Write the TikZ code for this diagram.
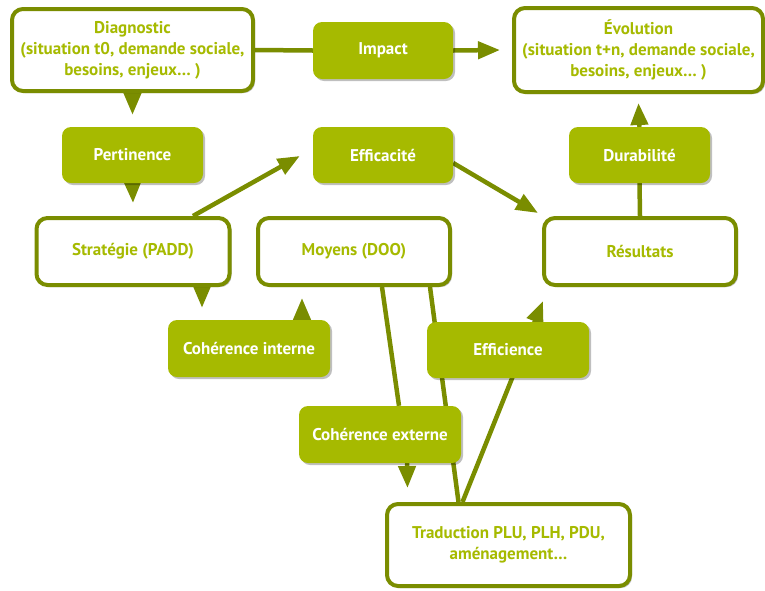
\documentclass[tikz,border=0pt]{standalone}
\usepackage{fontspec}
\setmainfont{PT Sans}
\usetikzlibrary{arrows.meta,shadows,calc}
\definecolor{lime}{RGB}{166,186,0}
\definecolor{olive}{RGB}{122,141,0}
\pgfdeclarelayer{background}
\pgfsetlayers{background,main}
\tikzset{
  shadowed/.style={drop shadow={shadow xshift=2pt,shadow yshift=-2pt,opacity=0.25,fill=black}},
  wbox/.style={shadowed,draw=olive,line width=4pt,fill=white,rounded corners=11pt,
    text=lime,font=\bfseries\fontsize{17}{21}\selectfont,align=center,inner sep=0pt},
  gbox/.style={shadowed,fill=lime,rounded corners=9pt,text=white,
    font=\bfseries\fontsize{17}{21}\selectfont,align=center,inner sep=0pt},
  conn/.style={draw=olive,line width=4.5pt},
  arr/.style={conn,-{Triangle[length=22pt,width=17pt]}},
}
\begin{document}
\begin{tikzpicture}[x=1pt,y=-1pt]
\useasboundingbox (0,0) rectangle (765,590);
% white boxes
\node[wbox,minimum width=241pt,minimum height=82pt] (diag) at (132.5,50) {Diagnostic\\(situation t0, demande sociale,\\besoins, enjeux… )};
\node[wbox,minimum width=249pt,minimum height=84pt] (evol) at (638.5,50) {Évolution\\(situation t+n, demande sociale,\\besoins, enjeux… )};
\node[wbox,minimum width=193pt,minimum height=67pt] (strat) at (133,251.5) {Stratégie (PADD)};
\node[wbox,minimum width=192pt,minimum height=67pt] (moy) at (354,251.5) {Moyens (DOO)};
\node[wbox,minimum width=192pt,minimum height=67pt] (res) at (640,251.5) {Résultats};
\node[wbox,minimum width=243pt,minimum height=82pt] (trad) at (508.5,545) {Traduction PLU, PLH, PDU,\\aménagement…};
% green boxes
\node[gbox,minimum width=140pt,minimum height=57pt] (imp) at (383,50.5) {Impact};
\node[gbox,minimum width=141pt,minimum height=56pt] (pert) at (132.5,155) {Pertinence};
\node[gbox,minimum width=140pt,minimum height=56pt] (effic) at (383,155) {Efficacité};
\node[gbox,minimum width=141pt,minimum height=56pt] (dur) at (639.5,155) {Durabilité};
\node[gbox,minimum width=162pt,minimum height=57pt] (cohi) at (249,348.5) {Cohérence interne};
\node[gbox,minimum width=162pt,minimum height=56pt] (effi) at (508,350) {Efficience};
\node[gbox,minimum width=162pt,minimum height=57pt] (cohe) at (380,434.5) {Cohérence externe};
% connectors
\begin{pgfonlayer}{background}
\draw[conn] (diag.east) -- (imp.west);
\draw[arr] (imp.east) -- ($(evol.west)+(-12,0)$);
\draw[arr] (diag.south) -- ($(pert.north)+(0,-12)$);
\draw[arr] (pert.south) -- ($(strat.north)+(0,-13)$);
\draw[arr] ($(strat.north)+(60,0)$) -- ($(effic.west)+(-13,1)$);
\draw[arr] ($(effic.east)+(0,8)$) -- ($(res.north west)+(-4,-3)$);
\draw[conn] (res.north) -- (dur.south);
\draw[arr] (dur.north) -- ($(evol.south)+(0,9)$);
\draw[arr] ($(strat.south)+(69,0)$) -- ($(cohi.north)+(-47,-12)$);
\draw[arr] ($(cohi.north)+(53,0)$) -- ($(moy.south)+(-52,11)$);
\draw[conn] ($(moy.south)+(28,0)$) -- ($(cohe.north)+(19,0)$);
\draw[conn] ($(moy.south)+(76,0)$) -- ($(trad.north)+(-50,0)$);
\draw[arr] ($(cohe.south)+(27,0)$) -- ($(trad.north)+(-101,-14)$);
\draw[arr] ($(trad.north)+(-46,0)$) -- ($(res.south)+(-97,14)$);
\end{pgfonlayer}
\end{tikzpicture}
\end{document}
